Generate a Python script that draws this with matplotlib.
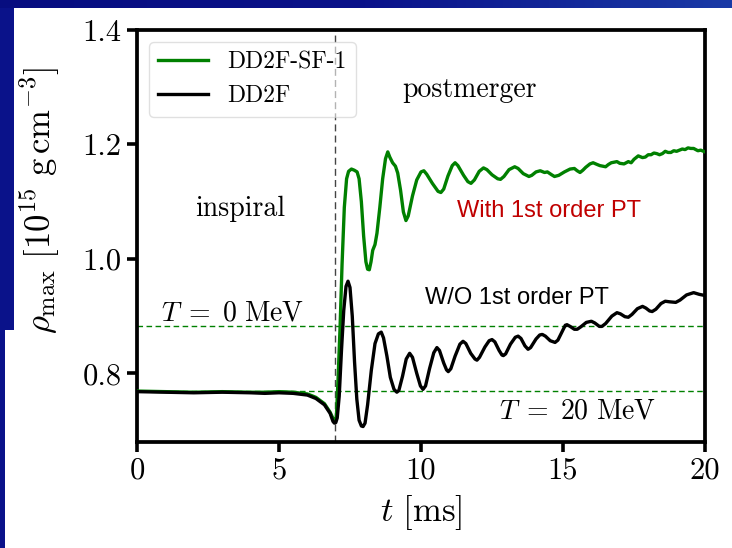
import matplotlib
matplotlib.use("Agg")
import matplotlib.pyplot as plt
import numpy as np
from matplotlib.patches import Rectangle
from matplotlib.colors import LinearSegmentedColormap

plt.rcParams['font.family'] = 'serif'
plt.rcParams['font.serif'] = ['cmr10']
plt.rcParams['mathtext.fontset'] = 'cm'
plt.rcParams['axes.formatter.use_mathtext'] = True

# ---- data ----
t_dd2f = [0.0, 1.0, 2.0, 3.0, 4.0, 4.5, 5.0, 5.5, 6.0, 6.3, 6.6, 6.8, 6.9, 6.95, 7.0, 7.05,
          7.12, 7.2, 7.28, 7.36, 7.43, 7.5, 7.58, 7.66, 7.74, 7.82, 7.9, 7.96, 8.03, 8.12,
          8.25, 8.38, 8.5, 8.6, 8.68, 8.8, 8.92, 9.05, 9.15, 9.22, 9.35, 9.48, 9.6, 9.7,
          9.85, 9.98, 10.07, 10.16, 10.3, 10.45, 10.56, 10.65, 10.8, 10.9, 10.96, 11.05,
          11.2, 11.37, 11.48, 11.58, 11.75, 11.9, 11.97, 12.06, 12.25, 12.4, 12.5, 12.6,
          12.75, 12.85, 12.9, 12.98, 13.15, 13.32, 13.42, 13.52, 13.66, 13.77, 13.86, 14.05,
          14.18, 14.27, 14.38, 14.55, 14.72, 14.82, 14.98, 15.08, 15.14, 15.25, 15.4, 15.5,
          15.62, 15.82, 16.0, 16.12, 16.28, 16.37, 16.5, 16.72, 16.9, 17.02, 17.18, 17.3,
          17.43, 17.62, 17.8, 17.92, 18.05, 18.14, 18.27, 18.45, 18.6, 18.75, 18.97, 19.12,
          19.35, 19.6, 19.8, 20.0]
rho_dd2f = [0.768, 0.767, 0.766, 0.767, 0.766, 0.765, 0.766, 0.765, 0.762, 0.756, 0.745, 0.730,
            0.716, 0.713, 0.714, 0.722, 0.760, 0.840, 0.910, 0.952, 0.961, 0.950, 0.900, 0.820,
            0.755, 0.718, 0.708, 0.707, 0.713, 0.745, 0.805, 0.852, 0.869, 0.872, 0.862, 0.830,
            0.793, 0.772, 0.767, 0.770, 0.795, 0.825, 0.835, 0.828, 0.800, 0.778, 0.772, 0.778,
            0.808, 0.836, 0.845, 0.840, 0.818, 0.806, 0.803, 0.808, 0.830, 0.851, 0.856, 0.852,
            0.835, 0.825, 0.823, 0.828, 0.846, 0.857, 0.859, 0.855, 0.840, 0.832, 0.831, 0.834,
            0.851, 0.863, 0.865, 0.861, 0.848, 0.842, 0.845, 0.860, 0.867, 0.868, 0.865, 0.857,
            0.854, 0.858, 0.874, 0.884, 0.885, 0.882, 0.877, 0.877, 0.881, 0.889, 0.891, 0.888,
            0.882, 0.882, 0.887, 0.900, 0.906, 0.904, 0.899, 0.898, 0.903, 0.913, 0.917, 0.914,
            0.909, 0.908, 0.912, 0.922, 0.926, 0.925, 0.924, 0.928, 0.937, 0.941, 0.938, 0.936]

t_sf = [0.0, 1.0, 2.0, 3.0, 4.0, 4.5, 5.0, 5.5, 6.0, 6.3, 6.6, 6.8, 6.95, 7.02, 7.08, 7.15,
        7.22, 7.3, 7.38, 7.45, 7.55, 7.65, 7.75, 7.82, 7.9, 7.98, 8.06, 8.12, 8.18, 8.24,
        8.3, 8.38, 8.45, 8.55, 8.65, 8.75, 8.83, 8.9, 9.0, 9.1, 9.18, 9.28, 9.38, 9.47,
        9.55, 9.7, 9.85, 10.0, 10.1, 10.2, 10.4, 10.6, 10.7, 10.8, 10.95, 11.1, 11.2, 11.3,
        11.5, 11.65, 11.76, 11.88, 12.05, 12.2, 12.32, 12.5, 12.7, 12.8, 12.92, 13.1, 13.3,
        13.42, 13.6, 13.8, 13.9, 14.05, 14.2, 14.35, 14.45, 14.6, 14.7, 14.85, 15.05, 15.25,
        15.4, 15.5, 15.6, 15.7, 15.8, 15.95, 16.06, 16.2, 16.3, 16.5, 16.6, 16.7, 16.9,
        17.0, 17.15, 17.3, 17.4, 17.5, 17.65, 17.8, 17.9, 18.0, 18.1, 18.2, 18.3, 18.4,
        18.5, 18.6, 18.7, 18.8, 18.9, 19.0, 19.1, 19.2, 19.3, 19.4, 19.5, 19.6, 19.75,
        19.85, 20.0]
rho_sf = [0.769, 0.768, 0.767, 0.768, 0.767, 0.767, 0.768, 0.767, 0.764, 0.758, 0.747, 0.732,
          0.716, 0.724, 0.790, 0.880, 0.990, 1.090, 1.140, 1.153, 1.157, 1.155, 1.152, 1.140,
          1.100, 1.040, 0.995, 0.982, 0.981, 0.995, 1.015, 1.025, 1.045, 1.090, 1.140, 1.175,
          1.187, 1.178, 1.168, 1.162, 1.150, 1.120, 1.082, 1.067, 1.075, 1.110, 1.138, 1.152,
          1.154, 1.148, 1.132, 1.118, 1.116, 1.122, 1.145, 1.163, 1.168, 1.163, 1.146, 1.135,
          1.132, 1.138, 1.153, 1.159, 1.156, 1.147, 1.140, 1.139, 1.144, 1.156, 1.161, 1.158,
          1.149, 1.144, 1.146, 1.152, 1.154, 1.151, 1.152, 1.147, 1.144, 1.146, 1.152, 1.157,
          1.158, 1.154, 1.151, 1.155, 1.160, 1.166, 1.168, 1.165, 1.163, 1.161, 1.165, 1.168,
          1.170, 1.167, 1.166, 1.170, 1.168, 1.174, 1.180, 1.177, 1.178, 1.182, 1.182, 1.185,
          1.184, 1.182, 1.184, 1.188, 1.186, 1.186, 1.189, 1.188, 1.190, 1.192, 1.191, 1.194,
          1.193, 1.193, 1.189, 1.190, 1.187]

temp_levels = [0.882, 0.770]
merger_time = 6.96
x_ticks = [0, 5, 10, 15, 20]
y_ticks = [0.8, 1.0, 1.2, 1.4]

# ---- figure ----
fig = plt.figure(figsize=(7.32, 5.48), dpi=100)
fig.patch.set_facecolor('#0a128a')

bg = fig.add_axes([0, 0, 1, 1], zorder=-10)
grad = np.linspace(0, 1, 256).reshape(1, -1)
cmap = LinearSegmentedColormap.from_list('slide', ['#070d80', '#0a128a', '#1a3aa6'])
bg.imshow(grad, extent=[0, 1, 1 - 8 / 548, 1], aspect='auto', cmap=cmap)
bg.add_patch(Rectangle((14 / 732, 0), 1, 1 - 8 / 548, facecolor='white', edgecolor='none'))
bg.add_patch(Rectangle((5 / 732, 0), 1, 1 - 330 / 548, facecolor='white', edgecolor='none'))
bg.set_xlim(0, 1)
bg.set_ylim(0, 1)
bg.axis('off')

ax = fig.add_axes([137 / 732, 1 - 442 / 548, (705 - 137) / 732, (442 - 30) / 548])
ax.set_facecolor('white')

for lvl in temp_levels:
    ax.axhline(lvl, color='green', lw=1.0, ls=(0, (4, 2.5)), zorder=1)
ax.axvline(merger_time, color='#444444', lw=1.0, ls=(0, (5, 3)), zorder=1)

ax.plot(t_sf, rho_sf, color='green', lw=2.4, label='DD2F-SF-1', zorder=3,
        solid_joinstyle='round')
ax.plot(t_dd2f, rho_dd2f, color='black', lw=2.4, label='DD2F', zorder=4,
        solid_joinstyle='round')

ax.set_xlim(0, 20)
ax.set_ylim(0.68, 1.4)
ax.set_xticks(x_ticks)
ax.set_yticks(y_ticks)
ax.set_xticklabels([str(v) for v in x_ticks])
ax.set_yticklabels(['%.1f' % v for v in y_ticks])
ax.tick_params(axis='both', which='major', direction='out', length=7, width=2.6,
               labelsize=22, pad=4)
for s in ax.spines.values():
    s.set_linewidth(2.7)

ax.set_xlabel(r'$t\ [\mathrm{ms}]$', fontsize=25, labelpad=6)
ax.set_ylabel(r'$\rho_{\rm max}\ [10^{15}\ {\rm g\,cm^{-3}}]$', fontsize=25)
ax.yaxis.set_label_coords(-0.132, 0.587)

ax.text(3.63, 1.087, 'inspiral', fontsize=20, ha='center', va='center')
ax.text(11.7, 1.296, 'postmerger', fontsize=20, ha='center', va='center')
ax.text(14.5, 1.083, 'With 1st order PT', fontsize=17, ha='center', va='center',
        color='#c00000', family='Liberation Sans')
ax.text(13.38, 0.932, 'W/O 1st order PT', fontsize=17, ha='center', va='center',
        color='black', family='Liberation Sans')
ax.text(3.35, 0.905, r'$T\;=\;0\ \mathrm{MeV}$', fontsize=20, ha='center', va='center')
ax.text(15.5, 0.734, r'$T\;=\;20\ \mathrm{MeV}$', fontsize=20, ha='center', va='center')

leg = ax.legend(loc='upper left', fontsize=17, frameon=True, handlelength=2.1,
                borderaxespad=0.5, fancybox=True, framealpha=0.6)
leg.get_frame().set_edgecolor('#cccccc')

fig.savefig('out.png', dpi=100, facecolor=fig.get_facecolor())
